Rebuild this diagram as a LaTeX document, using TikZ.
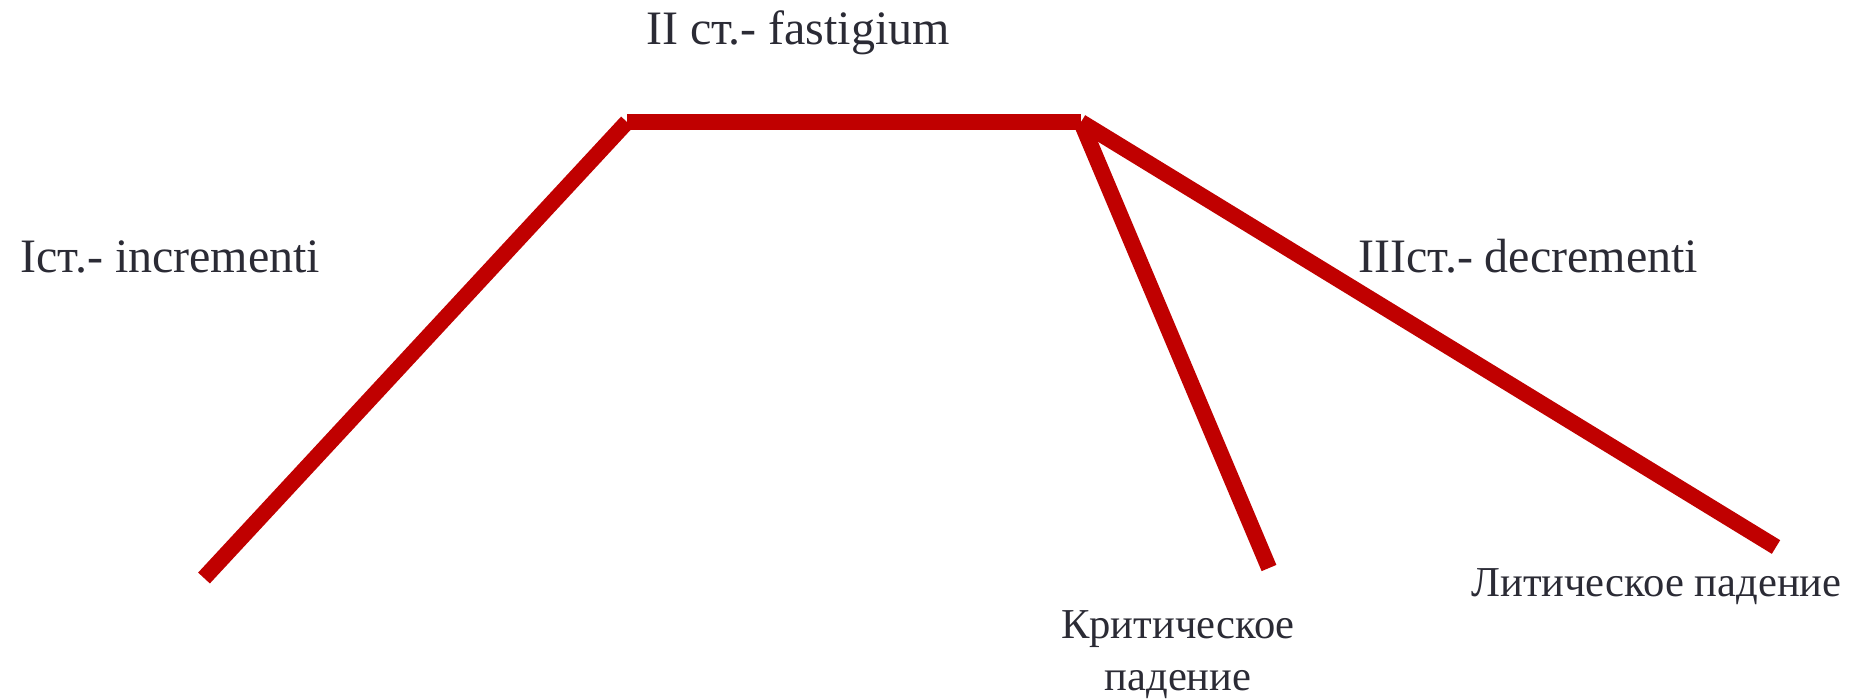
\documentclass[tikz,border=0pt]{standalone}
\usepackage{fontspec}
\setmainfont{Liberation Serif}
\definecolor{linered}{HTML}{C00000}
\definecolor{txt}{HTML}{2B2B35}
\begin{document}
\begin{tikzpicture}[x=0.5pt,y=-0.5pt,
  curve/.style={draw=linered,line width=8pt,line cap=butt},
  big/.style={text=txt,font=\fontsize{24pt}{28pt}\selectfont,inner sep=0pt},
  small/.style={text=txt,font=\fontsize{21.3pt}{26pt}\selectfont,inner sep=0pt}]
\useasboundingbox (0,0) rectangle (1863,698);
\coordinate (start) at (204,578);
\coordinate (tl) at (627,122);
\coordinate (tr) at (1081,122);
\coordinate (crit) at (1269,568);
\coordinate (lyt) at (1776,547);
\draw[curve] (start) -- (tl);
\draw[curve] (tl) -- (tr);
\draw[curve] (tr) -- (crit);
\draw[curve] (tr) -- (lyt);
\node[big,anchor=base] (t2) at (798,44) {II ст.- fastigium};
\node[big,anchor=base west] (t1) at (20,272) {Iст.- incrementi};
\node[big,anchor=base west] (t3) at (1358,272) {IIIст.- decrementi};
\node[small,anchor=base west] (lt) at (1471,596) {Литическое падение};
\node[small,anchor=base] (kr1) at (1178,638) {Критическое};
\node[small,anchor=base] (kr2) at (1178,690) {падение};
\end{tikzpicture}
\end{document}
